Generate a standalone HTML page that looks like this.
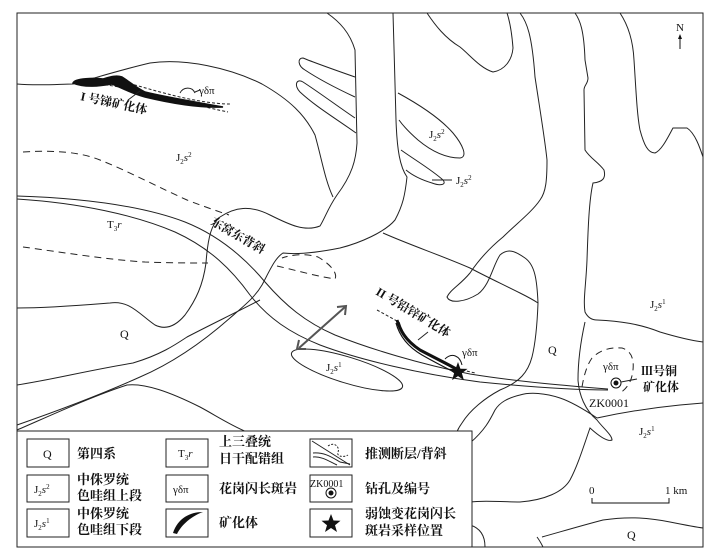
<!DOCTYPE html>
<html><head><meta charset="utf-8"><style>
html,body{margin:0;padding:0;background:#fff;}
svg{display:block;}
text{font-family:"Liberation Serif","Noto Serif CJK SC",serif;fill:#111;}
.cn{font-family:"Liberation Sans","Noto Sans CJK SC",sans-serif;font-weight:bold;}
</style></head><body>
<svg width="723" height="558" viewBox="0 0 723 558" xmlns="http://www.w3.org/2000/svg">
<rect width="723" height="558" fill="#fff"/>
<g fill="none" stroke="#222" stroke-width="1">
<path d="M17,84 C40,86 60,84 73,84 C95,78 120,70 150,63 C185,58 230,68 262,84 C290,100 305,115 315,135 C322,160 325,180 333,197"/>
<path d="M327,13 C340,22 350,33 355,50 L357,143 C356,160 352,175 337,195 C328,208 325,218 320,226 C305,232 290,225 270,215 C250,205 235,207 220,217 C212,224 208,235 206,263 C203,285 196,300 185,315 C175,327 165,330 155,325 C140,315 130,300 110,303 C85,305 50,308 17,308"/>
<path d="M393,13 C394,50 395,80 396,120 C397,150 400,167 407,177 C405,195 403,205 395,220 C385,232 360,243 340,248 C320,252 300,255 283,253 C275,258 270,270 262,285 C255,297 245,305 230,318 C205,340 175,362 140,377 C100,395 60,410 17,425"/>
<path d="M355,77 C335,70 315,63 303,58 C297,58 298,66 305,70 C320,80 340,90 355,97"/>
<path d="M355,118 C340,108 320,93 303,82 C296,78 294,86 300,92 C315,106 335,118 356,133"/>
<path d="M398,93 C420,105 440,118 453,133 C463,145 468,157 460,158 C445,158 430,150 418,140 C410,133 404,127 399,120"/>
<path d="M401,150 C415,160 432,170 443,180 C447,185 440,186 432,183 C422,180 412,175 406,170"/>
<line x1="432" y1="180" x2="452" y2="180"/>
<path d="M427,13 C435,25 445,38 460,47 C470,55 480,68 493,72 C505,70 512,60 513,48 C512,35 510,22 507,13"/>
<path d="M520,13 C527,22 532,35 535,77 C540,110 545,140 547,160 C547,180 546,192 540,200 C532,212 515,225 503,237 C492,246 480,258 470,273 C460,285 450,290 447,297 C450,304 465,302 478,294 C490,285 493,265 500,255 C508,248 515,251 525,258 C535,265 537,280 538,303 C537,330 535,345 532,357 C528,372 520,382 500,390 C485,398 470,410 462,423 C457,430 455,435 456,440"/>
<path d="M383,233 C410,245 440,255 470,268 C485,276 500,283 520,293 C530,298 535,301 538,303"/>
<path d="M575,13 C580,20 584,30 585,60 L588,78 C588,84 584,85 584,90 L585,150 C590,158 598,162 604,170 C606,178 603,182 593,183 C589,200 588,230 587,260 C586,285 583,300 585,312 C588,318 592,320 597,320 C620,321 640,324 660,332 C680,338 695,341 703,342"/>
<path d="M620,13 C628,25 633,40 634,60 C636,90 637,115 640,130 C644,145 648,153 655,153 C662,150 668,137 673,128 L687,128 C695,133 700,148 703,157"/>
<path d="M585,322 C581,340 578,360 578,380 C579,395 585,410 597,420 C603,428 612,435 612,440 C608,442 600,437 590,428 C584,445 578,465 570,480 C563,492 545,500 520,502 C500,502 485,500 470,502"/>
<path d="M597,418 C585,410 572,402 560,398 C545,393 530,392 520,395 C508,398 500,402 495,410 C490,420 485,430 470,443"/>
<path d="M597,418 C620,413 650,408 680,405 L703,403"/>
<path d="M17,385 C50,380 90,370 133,363 C160,355 175,345 187,337 C210,325 235,313 260,300"/>
<path d="M17,430 C45,418 90,397 127,385 C145,383 170,392 200,407 C215,415 230,425 247,432"/>
<path d="M470,525 C480,528 485,535 485,547"/>
<path d="M537,537 C540,541 542,545 543,547"/>
<path d="M542,537 C560,532 580,526 603,520 C630,516 650,518 670,522 C685,525 695,527 703,528"/>
<path d="M17,196 C80,198 140,205 185,222 C220,236 245,258 265,282 C285,305 305,322 335,335 C370,349 420,364 470,374 C520,382 570,386 608,389"/>
<path d="M17,199 C80,203 135,215 175,232 C210,248 232,270 250,295 C268,318 290,333 320,345 C360,360 420,374 480,382 C540,388 580,390 608,390"/>
<ellipse cx="347" cy="370" rx="58" ry="13" transform="rotate(17 347 370)"/>
</g>
<g fill="none" stroke="#222" stroke-width="1" stroke-dasharray="7,5">
<path d="M23,152 C55,150 80,152 100,160 C130,172 160,188 187,200 C205,207 220,212 229,215"/>
<path d="M23,247 C60,252 110,260 145,262 C170,263 195,263 208,263"/>
<path d="M277,266 C295,270 315,276 335,279 C338,273 330,264 318,257 C305,253 290,255 282,258"/>
<path d="M582,387 C584,375 587,365 592,358 C600,350 610,347 622,348 C632,351 634,360 633,370 C632,380 628,388 620,393"/>
<path d="M100,84 C130,88 160,96 190,103 C205,107 218,110 228,112" stroke-dasharray="3,2"/>
<path d="M110,78 C140,86 170,96 200,101 C212,103 222,104 230,104" stroke-dasharray="3,2"/>
<path d="M377,310 L397,321" stroke-dasharray="3,2"/>
<path d="M462,370 L475,373" stroke-dasharray="3,2"/>
</g>
<path d="M73,83 C75,78 95,78 103,79 C110,77 116,75 122,77 C130,82 135,87 145,92 C165,97 190,101 223,107 C200,108 170,103 145,97 C130,93 120,87 112,84 C100,86 85,88 73,83 Z" fill="#111" stroke="#111" stroke-width="1.5"/>
<path d="M180,93 C183,87 192,86 195,93" fill="none" stroke="#222"/>
<line x1="195" y1="92" x2="200" y2="90" stroke="#222"/>
<line x1="140" y1="91" x2="128" y2="100" stroke="#222"/>
<g fill="none" stroke="#111">
<path d="M397,320 C400,330 405,340 420,350 C435,358 448,364 458,370" stroke-width="3"/>
<path d="M399,322 C403,336 412,345 425,353 C438,361 450,366 460,372" stroke-width="1.2"/>
<path d="M396,323 C400,338 410,348 422,355 C436,363 446,368 456,373" stroke-width="1.2"/>
<path d="M445,359 C452,352 460,356 462,365" stroke-width="1"/>
</g>
<line x1="418" y1="340" x2="428" y2="332" stroke="#222"/>
<polygon points="458,362 460.4,368.7 467.5,368.9 461.9,373.3 463.9,380.1 458,376.1 452.1,380.1 454.1,373.3 448.5,368.9 455.6,368.7" fill="#111"/>
<g stroke="#555" stroke-width="2" fill="none">
<line x1="299" y1="348" x2="345" y2="307"/>
<polyline points="337,307 346,306 345,315"/>
<polyline points="299,340 297,349 306,349"/>
</g>
<circle cx="616" cy="383" r="5" fill="#fff" stroke="#111"/>
<circle cx="616" cy="383" r="2.5" fill="#111"/>
<line x1="621" y1="382" x2="637" y2="379" stroke="#222"/>
<text x="676" y="31" font-size="11">N</text>
<line x1="680" y1="36" x2="680" y2="49" stroke="#111"/>
<polygon points="680,34 678,39 682,39" fill="#111"/>
<polyline points="592,498 592,503 669,503 669,498" fill="none" stroke="#111"/>
<text x="589" y="494" font-size="11">0</text>
<text x="665" y="494" font-size="11">1 km</text>
<g font-size="11">
<text x="176" y="161">J<tspan font-size="7" dy="3">2</tspan><tspan dy="-3" font-style="italic">s</tspan><tspan font-size="7" dy="-4">2</tspan></text>
<text x="429" y="138">J<tspan font-size="7" dy="3">2</tspan><tspan dy="-3" font-style="italic">s</tspan><tspan font-size="7" dy="-4">2</tspan></text>
<text x="456" y="184">J<tspan font-size="7" dy="3">2</tspan><tspan dy="-3" font-style="italic">s</tspan><tspan font-size="7" dy="-4">2</tspan></text>
<text x="107" y="228">T<tspan font-size="7" dy="3">3</tspan><tspan dy="-3" font-style="italic">r</tspan></text>
<text x="120" y="338" font-size="12">Q</text>
<text x="548" y="354" font-size="12">Q</text>
<text x="326" y="371">J<tspan font-size="7" dy="3">2</tspan><tspan dy="-3" font-style="italic">s</tspan><tspan font-size="7" dy="-4">1</tspan></text>
<text x="650" y="308">J<tspan font-size="7" dy="3">2</tspan><tspan dy="-3" font-style="italic">s</tspan><tspan font-size="7" dy="-4">1</tspan></text>
<text x="639" y="435">J<tspan font-size="7" dy="3">2</tspan><tspan dy="-3" font-style="italic">s</tspan><tspan font-size="7" dy="-4">1</tspan></text>
<text x="627" y="539" font-size="12">Q</text>
<text x="199" y="94">γδπ</text>
<text x="462" y="356">γδπ</text>
<text x="603" y="370">γδπ</text>
<text x="589" y="407" font-size="12">ZK0001</text>
</g>
<g class="cn" font-size="12">
<text transform="translate(80,100) rotate(12)">I 号锑矿化体</text>
<text transform="translate(210,224) rotate(30)">东窝东背斜</text>
<text transform="translate(375,294) rotate(31)">II 号铅锌矿化体</text>
<text x="641" y="375">Ⅲ号铜</text>
<text x="643" y="391">矿化体</text>
</g>
<rect x="17" y="431" width="455" height="116" fill="#fff" stroke="#222"/>
<rect x="17" y="13" width="686" height="534" fill="none" stroke="#222"/>
<g fill="none" stroke="#222">
<rect x="27" y="439" width="42" height="28"/>
<rect x="27" y="475" width="42" height="27"/>
<rect x="27" y="509" width="42" height="28"/>
<rect x="166" y="439" width="42" height="28"/>
<rect x="166" y="475" width="42" height="27"/>
<rect x="166" y="509" width="42" height="28"/>
<rect x="310" y="439" width="42" height="28"/>
<rect x="310" y="475" width="42" height="27"/>
<rect x="310" y="509" width="42" height="28"/>
<line x1="312" y1="441" x2="350" y2="465"/>
<path d="M313,453 C325,452 333,458 340,462 L350,464" />
<path d="M313,457 C322,456 330,462 337,465" />
<path d="M328,446 C335,441 340,448 338,452 C336,456 343,458 348,455" stroke-dasharray="2,1.5"/>
</g>
<path d="M173,533 C178,518 190,512 203,512 C192,516 182,524 177,534 Z" fill="#111"/>
<circle cx="331" cy="493" r="5" fill="#fff" stroke="#111"/>
<circle cx="331" cy="493" r="2.5" fill="#111"/>
<polygon points="331,514 333.5,520.5 340.5,520.8 335,525.2 337,532 331,528 325,532 327,525.2 321.5,520.8 328.5,520.5" fill="#111"/>
<g font-size="11">
<text x="43" y="458" font-size="12">Q</text>
<text x="34" y="493">J<tspan font-size="7" dy="3">2</tspan><tspan dy="-3" font-style="italic">s</tspan><tspan font-size="7" dy="-4">2</tspan></text>
<text x="34" y="527">J<tspan font-size="7" dy="3">2</tspan><tspan dy="-3" font-style="italic">s</tspan><tspan font-size="7" dy="-4">1</tspan></text>
<text x="178" y="457">T<tspan font-size="7" dy="3">3</tspan><tspan dy="-3" font-style="italic">r</tspan></text>
<text x="173" y="493">γδπ</text>
<text x="310" y="487" font-size="10">ZK0001</text>
</g>
<g class="cn" font-size="13">
<text x="77" y="458">第四系</text>
<text x="77" y="484">中侏罗统</text>
<text x="77" y="500">色哇组上段</text>
<text x="77" y="518">中侏罗统</text>
<text x="77" y="534">色哇组下段</text>
<text x="219" y="446">上三叠统</text>
<text x="219" y="463">日干配错组</text>
<text x="219" y="493">花岗闪长斑岩</text>
<text x="219" y="527">矿化体</text>
<text x="365" y="458">推测断层/背斜</text>
<text x="365" y="493">钻孔及编号</text>
<text x="365" y="518">弱蚀变花岗闪长</text>
<text x="365" y="535">斑岩采样位置</text>
</g>
</svg>
</body></html>
